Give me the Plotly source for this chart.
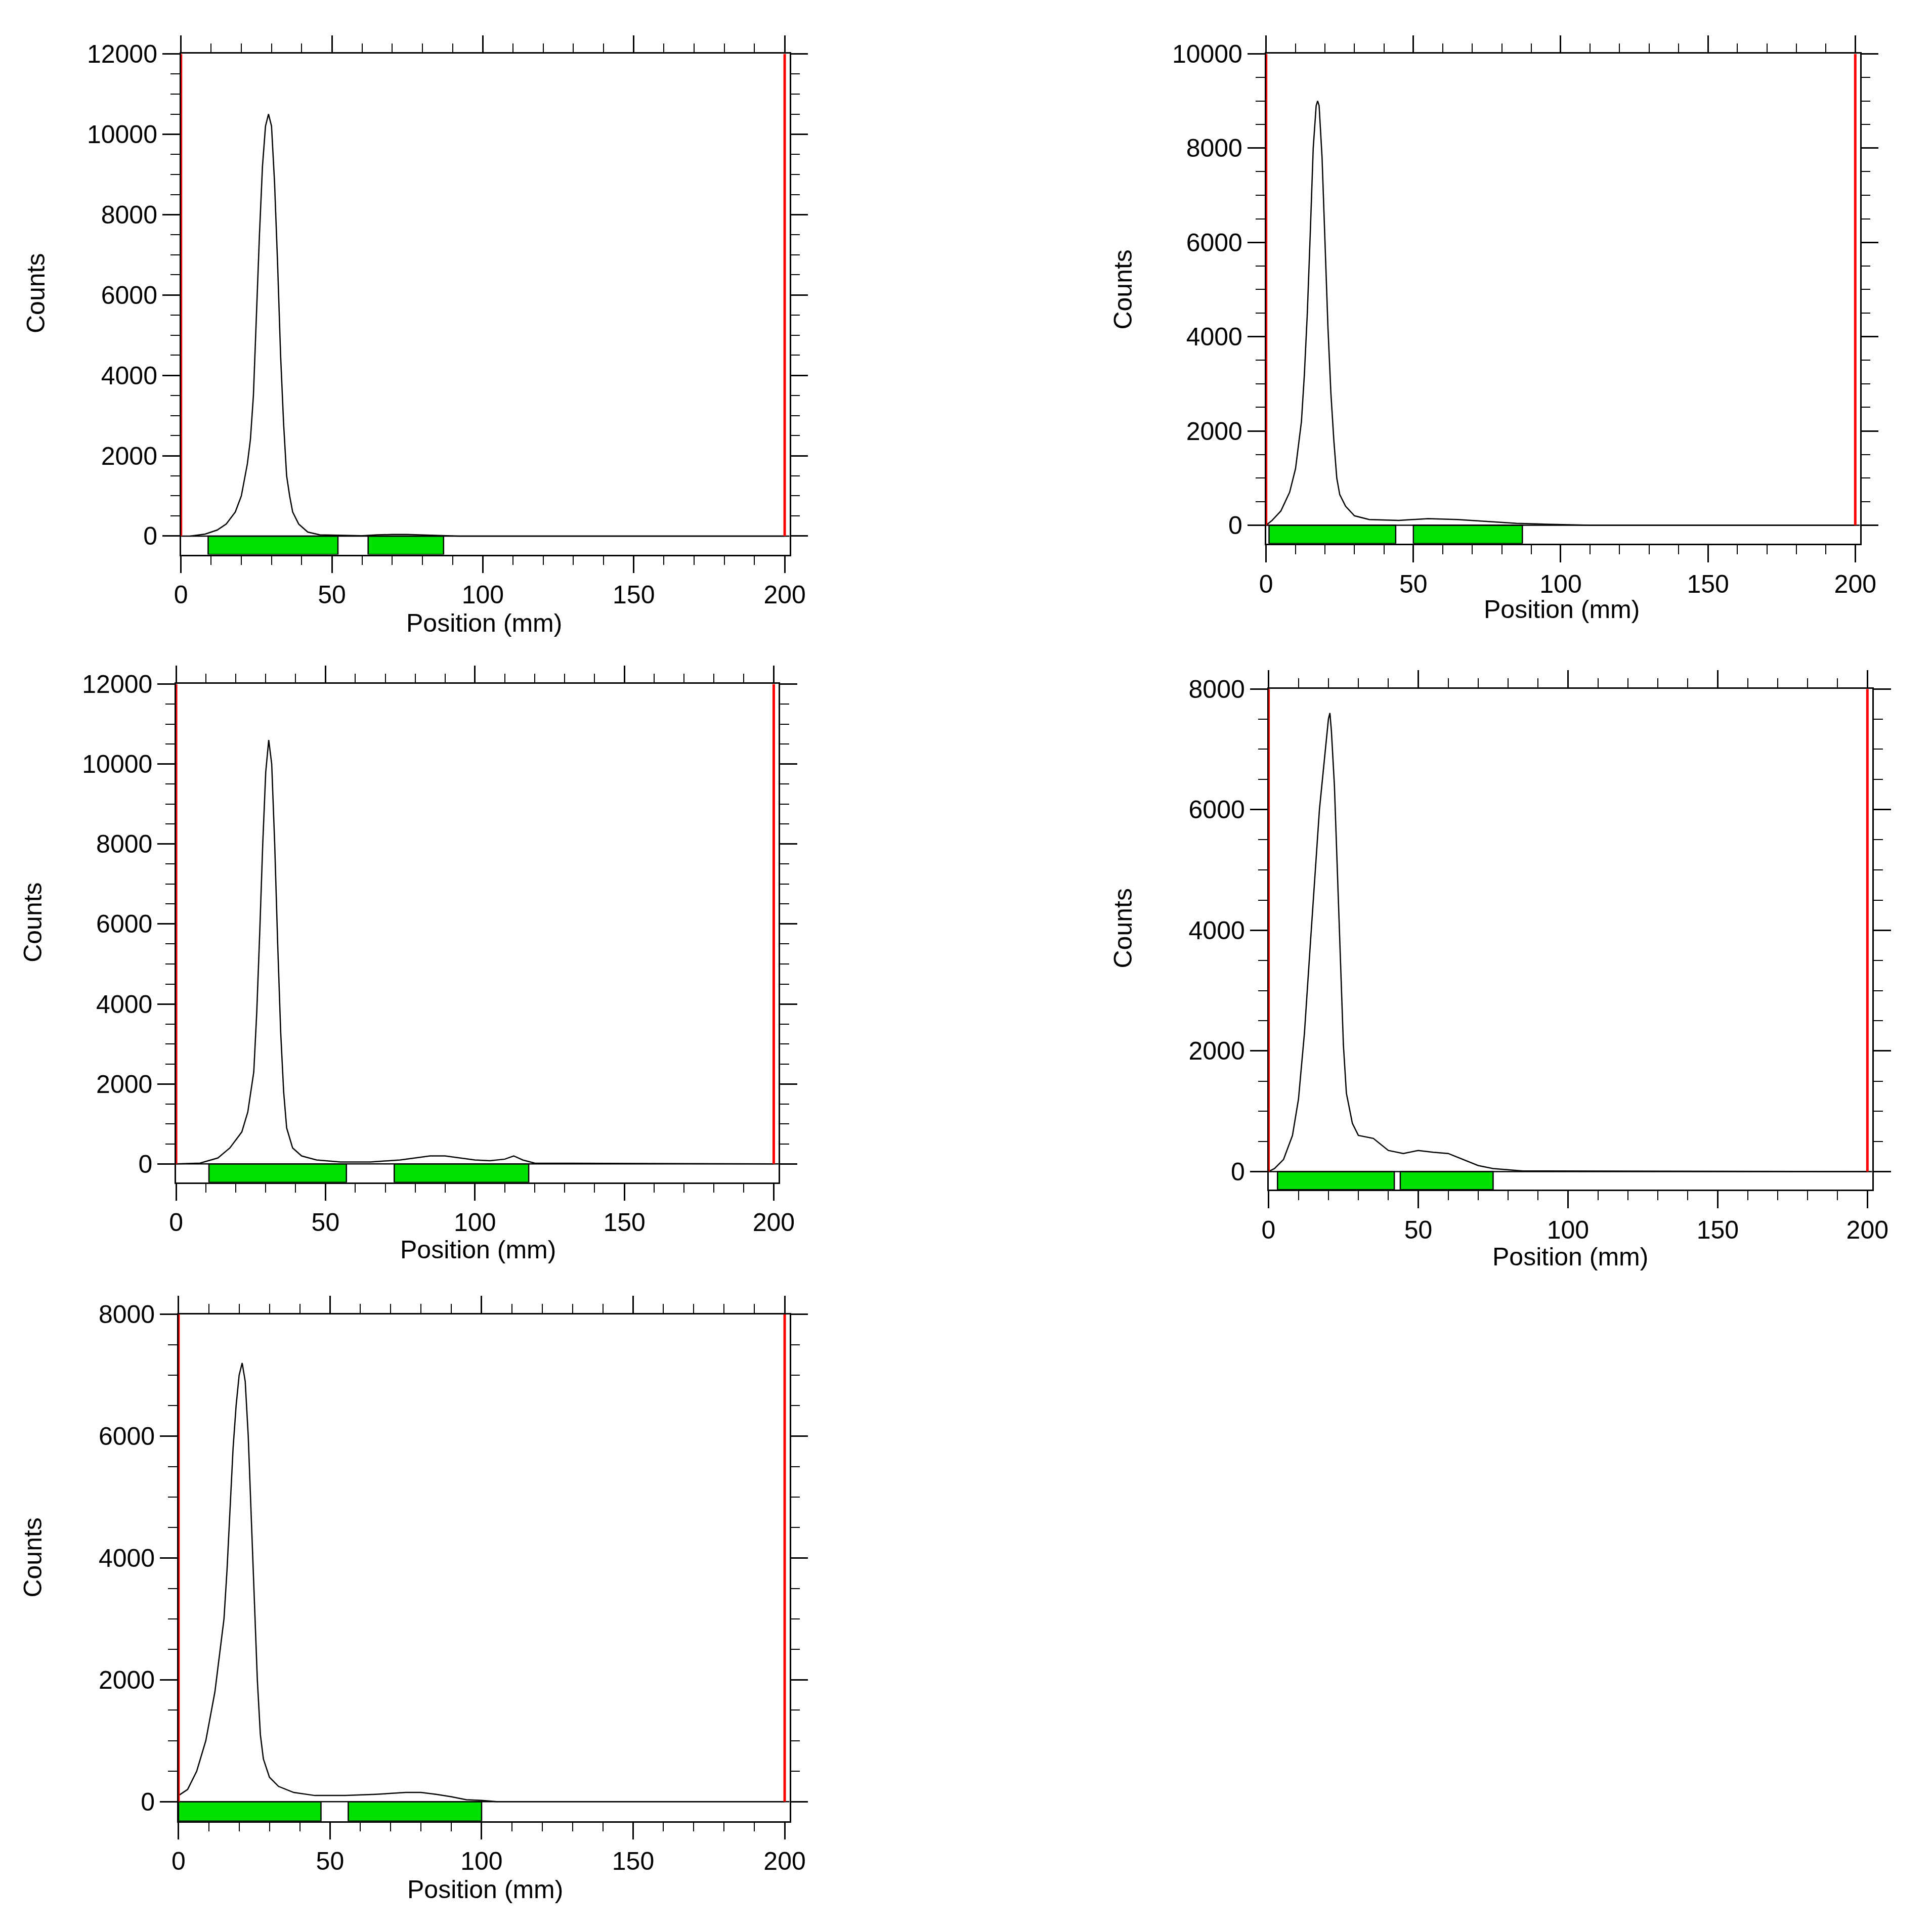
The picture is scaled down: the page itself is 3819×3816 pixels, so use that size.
import plotly.graph_objects as go

# ---- data ----
p1_x = [3,8,12,15,18,20,22,23,24,25,26,27,28,29,30,31,32,33,34,35,36,37,39,42,46,52,60,65,70,75,80,85,92,200]
p1_y = [0,50,150,300,600,1000,1800,2400,3500,5500,7500,9200,10200,10500,10200,8800,6800,4500,2800,1500,1000,600,300,100,30,20,10,30,40,40,30,20,0,0]
p2_x = [0,2,5,8,10,12,13,14,15,16,17,17.5,18,19,20,21,22,23,24,25,27,30,35,45,55,65,75,85,95,110,200]
p2_y = [0,100,300,700,1200,2200,3200,4500,6200,8000,8900,9000,8900,7800,6000,4200,2800,1800,1000,650,400,200,120,100,140,120,80,40,20,0,0]
p3_x = [0,8,14,18,22,24,26,27,28,29,30,31,32,33,34,35,36,37,39,42,47,55,65,75,80,85,90,95,100,105,110,113,116,120,200]
p3_y = [0,20,150,400,800,1300,2300,3800,5800,8000,9800,10600,10000,8000,5500,3300,1800,900,400,200,100,50,50,100,150,200,200,150,100,80,120,200,100,20,0]
p4_x = [0,2,5,8,10,12,14,16,17,18,19,20,20.5,21,22,23,24,25,26,28,30,35,40,45,50,55,60,65,70,75,85,200]
p4_y = [0,50,200,600,1200,2300,3800,5300,6000,6500,7000,7500,7600,7300,6400,5000,3500,2100,1300,800,600,550,350,300,350,320,300,200,100,50,10,0]
p5_x = [0,3,6,9,12,14,15,16,17,18,19,20,21,22,23,24,25,26,27,28,30,33,38,45,55,65,75,80,85,90,95,100,105,200]
p5_y = [100,200,500,1000,1800,2600,3000,3800,4800,5800,6500,7000,7200,6900,6000,4700,3300,2000,1100,700,400,250,150,100,100,120,150,150,120,80,30,20,0,0]

series_x = [p1_x, p2_x, p3_x, p4_x, p5_x]
series_y = [p1_y, p2_y, p3_y, p4_y, p5_y]
y_max = [12000, 10000, 12000, 8000, 8000]
y_min = [-460, -390, -460, -300, -320]
green_regions = [[(9,52),(62,87)], [(1,44),(50,87)], [(11,57),(73,118)], [(3,42),(44,75)], [(0,47),(56,100)]]
x_ticks = [0, 50, 100, 150, 200]

# ---- layout (in 1560 px reference units) ----
W = 1560.0
boxes = [(147,645,42,452),(1035,1521,42,443),(143,636,558,966),(1037,1531,562,972),(145,645,1074,1489)]
counts_pos = [(28,238),(918,235),(26,753),(918,758),(26,1273)]
xlab_pos = [(395,508),(1277,497),(390,1021),(1284,1027),(396,1545)]

DX, DY = 8, 13
def fx(x):
    return (x - 2 * (x / 1560) - DX) / W
def fy(y):
    yt = 42 + (y - 42) * 0.9945
    return 1 - (yt - DY) / W

fig = go.Figure()
FONT = "Liberation Sans, Arial, sans-serif"
lay = dict(width=3819, height=3816, margin=dict(l=0,r=0,t=0,b=0),
           paper_bgcolor="white", plot_bgcolor="white", showlegend=False,
           font=dict(family=FONT, size=50, color="black"))
shapes = []
annotations = []
for i in range(5):
    n = "" if i == 0 else str(i+1)
    x0,x1,y0,y1 = boxes[i]
    ax = dict(domain=[fx(x0), fx(x1)], range=[0, 201.6], tickvals=x_ticks,
              ticks="outside", ticklen=34, tickwidth=2.5, tickcolor="black",
              minor=dict(dtick=10, tick0=0, ticks="outside", ticklen=18, tickwidth=2, tickcolor="black"),
              showline=True, linecolor="black", linewidth=2.5, mirror="ticks",
              showgrid=False, zeroline=False, anchor="y"+n, tickfont=dict(size=50))
    ay = dict(domain=[fy(y1), fy(y0)], range=[y_min[i], y_max[i]], dtick=2000, tick0=0,
              tickformat="d",
              ticks="outside", ticklen=34, tickwidth=2.5, tickcolor="black",
              minor=dict(dtick=500, tick0=0, ticks="outside", ticklen=18, tickwidth=2, tickcolor="black"),
              showline=True, linecolor="black", linewidth=2.5, mirror="ticks",
              showgrid=False, zeroline=False, anchor="x"+n, tickfont=dict(size=50))
    lay["xaxis"+n] = ax
    lay["yaxis"+n] = ay
    xr, yr = "x"+n, "y"+n
    for (a,b) in green_regions[i]:
        shapes.append(dict(type="rect", xref=xr, yref=yr, x0=a, x1=b, y0=y_min[i], y1=0,
                           fillcolor="#00e000", line=dict(color="black", width=2.5), layer="above"))
    shapes.append(dict(type="line", xref=xr, yref=yr, x0=0, x1=201.6, y0=0, y1=0,
                       line=dict(color="black", width=2.5)))
    for xv in (0, 200):
        shapes.append(dict(type="line", xref=xr, yref=yr, x0=xv, x1=xv, y0=0, y1=y_max[i],
                           line=dict(color="red", width=5)))
    fig.add_trace(go.Scatter(x=series_x[i], y=series_y[i], mode="lines",
                             line=dict(color="black", width=2.5), xaxis=xr, yaxis=yr))
    cx, cy = counts_pos[i]
    annotations.append(dict(text="Counts", x=fx(cx), y=fy(cy), xref="paper", yref="paper",
                            xanchor="center", yanchor="middle",
                            showarrow=False, textangle=-90, font=dict(size=50)))
    lx, ly = xlab_pos[i]
    annotations.append(dict(text="Position (mm)", x=fx(lx), y=fy(ly), xref="paper", yref="paper",
                            xanchor="center", yanchor="middle",
                            showarrow=False, font=dict(size=50)))
lay["shapes"] = shapes
lay["annotations"] = annotations
fig.update_layout(**lay)
fig.write_html("out.html")
